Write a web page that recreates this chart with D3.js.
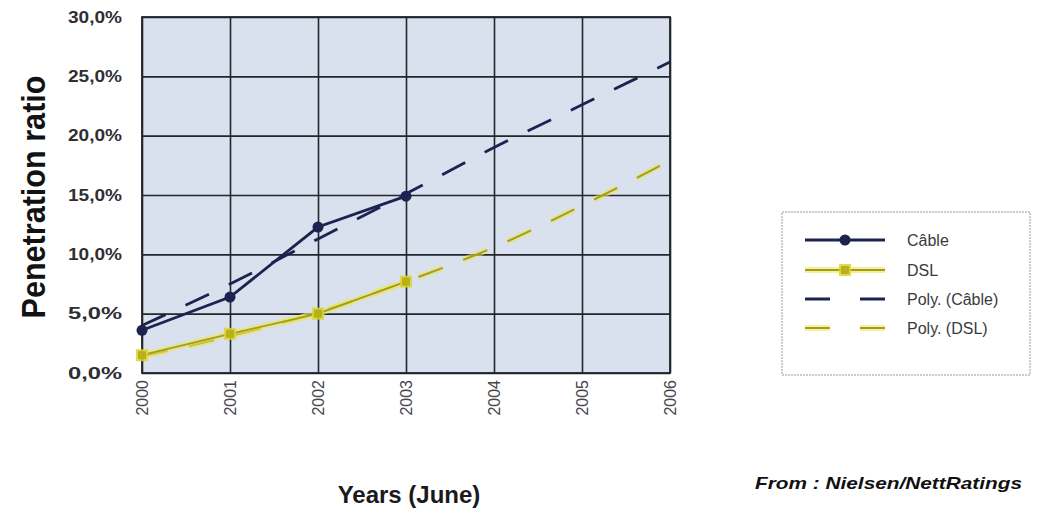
<!DOCTYPE html>
<html>
<head>
<meta charset="utf-8">
<script src="https://cdn.jsdelivr.net/npm/d3@7"></script>
<style>
  html, body { margin: 0; padding: 0; background: #ffffff; }
  svg { display: block; font-family: "Liberation Sans", Arial, sans-serif; }
</style>
</head>
<body>
<svg id="chart" width="1037" height="512"></svg>
<script>
// Broadband penetration, June of each year
const years = [2000, 2001, 2002, 2003];
const cableValues = [3.6, 6.4, 12.3, 14.9];
const dslValues = [1.5, 3.3, 5.0, 7.7];

// Second-order polynomial trend lines, sampled per year
const trendYears = [2000, 2001, 2002, 2003, 2004, 2005, 2006];
const cableTrend = [4.0, 7.5, 11.3, 15.1, 19.0, 22.6, 26.2];
const dslTrend = [1.4, 3.1, 5.1, 7.7, 10.6, 14.1, 17.9];

const xTicks = [2000, 2001, 2002, 2003, 2004, 2005, 2006];
const yTicks = [0, 5, 10, 15, 20, 25, 30];

const legendLabels = ["Câble", "DSL", "Poly. (Câble)", "Poly. (DSL)"];

const svg = d3.select("#chart");
const plot = { left: 142, top: 17, right: 670, bottom: 373 };

const x = d3.scaleLinear().domain([2000, 2006]).range([plot.left, plot.right]);
const y = d3.scaleLinear().domain([0, 30]).range([plot.bottom, plot.top]);

const navy = "#1b2350";
const olive = "#a49c1c";
const yellowGlow = "#ece65a";
const grid = "#23262c";
const trendDash = "26,22";

// plot background
svg.append("rect")
  .attr("x", plot.left).attr("y", plot.top)
  .attr("width", plot.right - plot.left).attr("height", plot.bottom - plot.top)
  .attr("fill", "#d8e1ed");

// gridlines from the axes
svg.append("g")
  .attr("transform", `translate(${plot.left},0)`)
  .call(d3.axisLeft(y).tickValues(yTicks).tickSize(-(plot.right - plot.left)).tickFormat(""))
  .call(g => g.select(".domain").remove())
  .call(g => g.selectAll("line").attr("stroke", grid).attr("stroke-width", 1.6));

svg.append("g")
  .attr("transform", `translate(0,${plot.bottom})`)
  .call(d3.axisBottom(x).tickValues(xTicks).tickSize(-(plot.bottom - plot.top)).tickFormat(""))
  .call(g => g.select(".domain").remove())
  .call(g => g.selectAll("line").attr("stroke", grid).attr("stroke-width", 1.6));

// plot frame
svg.append("rect")
  .attr("x", plot.left).attr("y", plot.top)
  .attr("width", plot.right - plot.left).attr("height", plot.bottom - plot.top)
  .attr("fill", "none").attr("stroke", grid).attr("stroke-width", 1.8);

// y tick labels
const fmtPct = v => d3.format(".1f")(v).replace(".", ",") + "%";
svg.append("g")
  .attr("transform", `translate(${plot.left - 20},0)`)
  .call(d3.axisLeft(y).tickValues(yTicks).tickSize(0).tickFormat(fmtPct))
  .call(g => g.select(".domain").remove())
  .call(g => g.selectAll("text")
    .attr("font-family", "'Liberation Sans', Arial, sans-serif")
    .attr("font-size", 16).attr("font-weight", "bold")
    .attr("fill", "#2e2e33").attr("x", 0)
    .attr("textLength", 54).attr("lengthAdjust", "spacingAndGlyphs"));

// x tick labels, rotated
svg.append("g")
  .attr("transform", `translate(0,${plot.bottom + 7})`)
  .call(d3.axisBottom(x).tickValues(xTicks).tickSize(0).tickFormat(d3.format("d")))
  .call(g => g.select(".domain").remove())
  .call(g => g.selectAll("text")
    .attr("font-family", "'Liberation Sans', Arial, sans-serif")
    .attr("font-size", 16).attr("fill", "#45454a")
    .attr("transform", "rotate(-90)")
    .attr("text-anchor", "end").attr("dy", "0.35em").attr("x", 0).attr("y", 0));

// trend lines
const trendLine = vals => d3.line()
  .x((d, i) => x(trendYears[i]))
  .y(d => y(d))
  .curve(d3.curveMonotoneX)(vals);

svg.append("path")
  .attr("d", trendLine(dslTrend))
  .attr("fill", "none").attr("stroke", yellowGlow).attr("stroke-width", 6)
  .attr("stroke-opacity", 0.55).attr("stroke-dasharray", trendDash);
svg.append("path")
  .attr("d", trendLine(dslTrend))
  .attr("fill", "none").attr("stroke", olive).attr("stroke-width", 2)
  .attr("stroke-dasharray", trendDash);

// DSL series
const seriesLine = vals => d3.line()
  .x((d, i) => x(years[i]))
  .y(d => y(d))(vals);

svg.append("path")
  .attr("d", seriesLine(dslValues))
  .attr("fill", "none").attr("stroke", yellowGlow).attr("stroke-width", 6)
  .attr("stroke-opacity", 0.6);
svg.append("path")
  .attr("d", seriesLine(dslValues))
  .attr("fill", "none").attr("stroke", olive).attr("stroke-width", 1.8);

svg.append("g").selectAll("rect")
  .data(dslValues)
  .join("rect")
  .attr("x", (d, i) => x(years[i]) - 6).attr("y", d => y(d) - 6)
  .attr("width", 12).attr("height", 12)
  .attr("fill", "#dcd52a").attr("fill-opacity", 0.85);
svg.append("g").selectAll("rect")
  .data(dslValues)
  .join("rect")
  .attr("x", (d, i) => x(years[i]) - 4).attr("y", d => y(d) - 4)
  .attr("width", 8).attr("height", 8)
  .attr("fill", "#b9b01e");

// cable trend and series
svg.append("path")
  .attr("d", trendLine(cableTrend))
  .attr("fill", "none").attr("stroke", navy).attr("stroke-width", 2.8)
  .attr("stroke-dasharray", trendDash);

svg.append("path")
  .attr("d", seriesLine(cableValues))
  .attr("fill", "none").attr("stroke", navy).attr("stroke-width", 2.8);

svg.append("g").selectAll("circle")
  .data(cableValues)
  .join("circle")
  .attr("cx", (d, i) => x(years[i])).attr("cy", d => y(d))
  .attr("r", 5.5).attr("fill", navy);

// axis titles
svg.append("text")
  .attr("transform", `translate(45,197) rotate(-90)`)
  .attr("text-anchor", "middle")
  .attr("font-size", 34).attr("font-weight", "bold").attr("fill", "#121214")
  .attr("textLength", 243).attr("lengthAdjust", "spacingAndGlyphs")
  .text("Penetration ratio");

svg.append("text")
  .attr("x", 409).attr("y", 503)
  .attr("text-anchor", "middle")
  .attr("font-size", 24).attr("font-weight", "bold").attr("fill", "#1a1a1c")
  .text("Years (June)");

svg.append("text")
  .attr("x", 755).attr("y", 489)
  .attr("font-size", 17).attr("font-weight", "bold").attr("font-style", "italic")
  .attr("fill", "#111")
  .attr("textLength", 267).attr("lengthAdjust", "spacingAndGlyphs")
  .text("From : Nielsen/NettRatings");

// legend
const legend = svg.append("g");
legend.append("rect")
  .attr("x", 782).attr("y", 212).attr("width", 248).attr("height", 163)
  .attr("fill", "#ffffff").attr("stroke", "#9a9a9a").attr("stroke-width", 1)
  .attr("stroke-dasharray", "2,1");

const rowY = [240, 270, 299, 328];
const lx0 = 805, lx1 = 885;
legendLabels.forEach((label, i) => {
  const g = legend.append("g");
  const yy = rowY[i];
  if (i === 0) {
    g.append("line").attr("x1", lx0).attr("x2", lx1).attr("y1", yy).attr("y2", yy)
      .attr("stroke", navy).attr("stroke-width", 2.8);
    g.append("circle").attr("cx", (lx0 + lx1) / 2).attr("cy", yy).attr("r", 5.5).attr("fill", navy);
  } else if (i === 1) {
    g.append("line").attr("x1", lx0).attr("x2", lx1).attr("y1", yy).attr("y2", yy)
      .attr("stroke", yellowGlow).attr("stroke-width", 6).attr("stroke-opacity", 0.6);
    g.append("line").attr("x1", lx0).attr("x2", lx1).attr("y1", yy).attr("y2", yy)
      .attr("stroke", olive).attr("stroke-width", 1.8);
    g.append("rect").attr("x", (lx0 + lx1) / 2 - 6).attr("y", yy - 6).attr("width", 12).attr("height", 12)
      .attr("fill", "#dcd52a").attr("fill-opacity", 0.85);
    g.append("rect").attr("x", (lx0 + lx1) / 2 - 4).attr("y", yy - 4).attr("width", 8).attr("height", 8)
      .attr("fill", "#b9b01e");
  } else if (i === 2) {
    g.append("line").attr("x1", lx0).attr("x2", lx1).attr("y1", yy).attr("y2", yy)
      .attr("stroke", navy).attr("stroke-width", 2.8).attr("stroke-dasharray", "25,30");
  } else {
    g.append("line").attr("x1", lx0).attr("x2", lx1).attr("y1", yy).attr("y2", yy)
      .attr("stroke", yellowGlow).attr("stroke-width", 6).attr("stroke-opacity", 0.55)
      .attr("stroke-dasharray", "25,30");
    g.append("line").attr("x1", lx0).attr("x2", lx1).attr("y1", yy).attr("y2", yy)
      .attr("stroke", olive).attr("stroke-width", 2).attr("stroke-dasharray", "25,30");
  }
  g.append("text").attr("x", 907).attr("y", yy).attr("dy", "0.35em")
    .attr("font-size", 16).attr("fill", "#3a3a3e")
    .text(label);
});
</script>
</body>
</html>
